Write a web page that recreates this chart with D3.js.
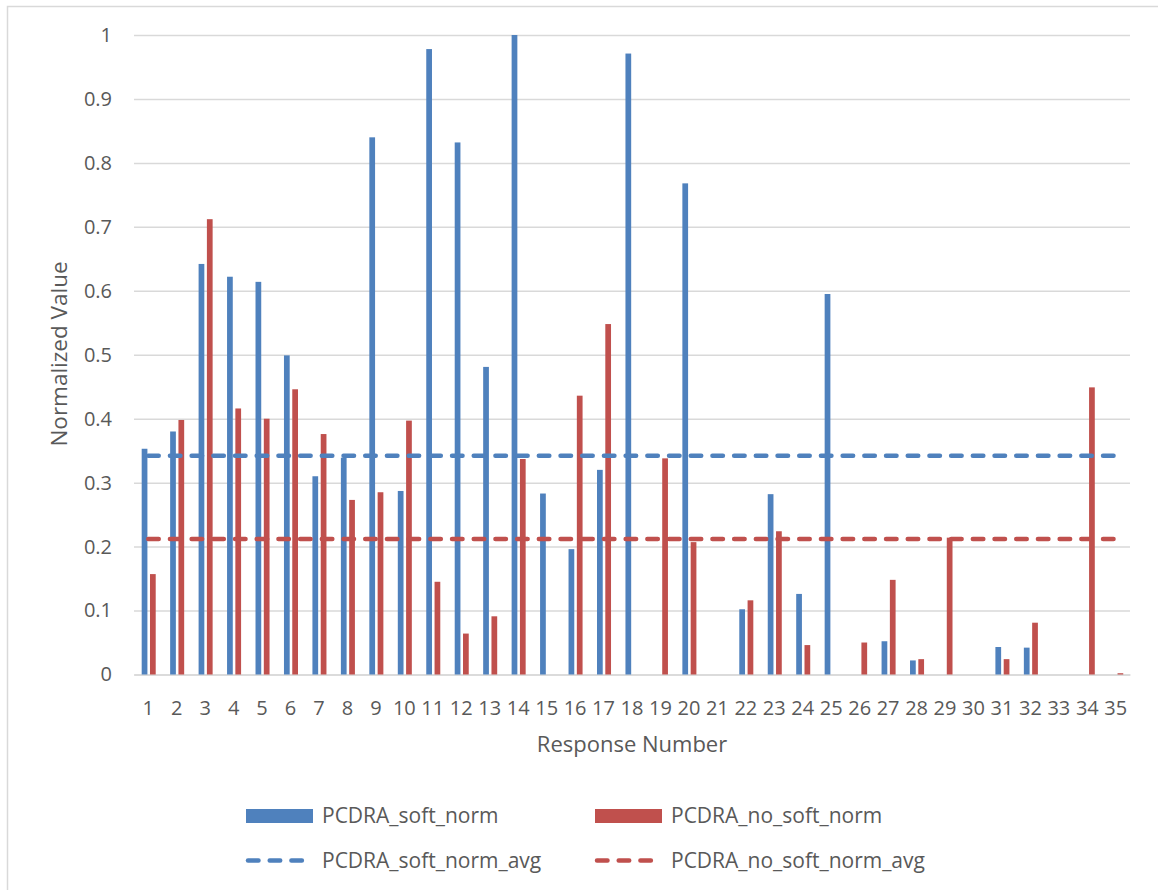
<!DOCTYPE html>
<html>
<head>
<meta charset="utf-8">
<script src="https://cdn.jsdelivr.net/npm/d3@7"></script>
<style>
  html, body { margin: 0; padding: 0; background: #fff; }
  svg { display: block; font-family: "Open Sans", "Noto Sans", sans-serif; }
</style>
</head>
<body>
<div id="chart"></div>
<script>
// values
const responses = d3.range(1, 36).map(String);
const softNorm = [0.353, 0.380, 0.642, 0.622, 0.614, 0.499, 0.310, 0.339, 0.840, 0.287,
                  0.978, 0.832, 0.481, 1.000, 0.283, 0.196, 0.320, 0.971, 0, 0.768,
                  0, 0.102, 0.282, 0.126, 0.595, 0, 0.052, 0.022, 0, 0,
                  0.043, 0.042, 0, 0, 0];
const noSoftNorm = [0.157, 0.398, 0.712, 0.416, 0.400, 0.446, 0.376, 0.273, 0.285, 0.397,
                    0.145, 0.064, 0.091, 0.337, 0, 0.436, 0.548, 0, 0.338, 0.207,
                    0, 0.116, 0.224, 0.046, 0, 0.050, 0.148, 0.024, 0.214, 0,
                    0.024, 0.081, 0, 0.449, 0.002];
const softNormAvg = 0.342;
const noSoftNormAvg = 0.212;
const yTicks = [0, 0.1, 0.2, 0.3, 0.4, 0.5, 0.6, 0.7, 0.8, 0.9, 1];

const seriesNames = ["PCDRA_soft_norm", "PCDRA_no_soft_norm"];
const avgNames = ["PCDRA_soft_norm_avg", "PCDRA_no_soft_norm_avg"];
const colors = ["#4F81BD", "#C0504D"];

const W = 1158, H = 890;
const plot = { left: 134, right: 1130, top: 35, bottom: 674.5 };

const svg = d3.select("#chart").append("svg")
    .attr("width", W)
    .attr("height", H);

// chart border (right and bottom edges fall outside the picture)
svg.append("rect")
    .attr("x", 7.5).attr("y", 6.5)
    .attr("width", 1170).attr("height", 900)
    .attr("fill", "none")
    .attr("stroke", "#d9d9d9")
    .attr("stroke-width", 1.5);

const x0 = d3.scaleBand()
    .domain(responses)
    .range([plot.left, plot.right])
    .padding(0);

const x1 = d3.scaleBand()
    .domain([0, 1])
    .range([x0.bandwidth() * 0.27, x0.bandwidth() * 0.763])
    .paddingInner(0.31);

const y = d3.scaleLinear()
    .domain([0, 1])
    .range([plot.bottom, plot.top]);

// y axis + gridlines
const yAxis = svg.append("g")
    .attr("transform", `translate(${plot.left},0)`)
    .call(d3.axisLeft(y)
        .tickValues(yTicks)
        .tickFormat(d => d3.format("~g")(d))
        .tickSize(-(plot.right - plot.left))
        .tickPadding(22));
yAxis.select(".domain").remove();
yAxis.selectAll(".tick line").attr("stroke", "#d9d9d9").attr("stroke-width", 1.5);
yAxis.selectAll(".tick text")
    .attr("fill", "#595959")
    .style("font-size", "20px")
    .style("font-family", "'Open Sans', sans-serif");

// x axis
const xAxis = svg.append("g")
    .attr("transform", `translate(0,${plot.bottom})`)
    .call(d3.axisBottom(x0).tickSize(0).tickPadding(26));
xAxis.select(".domain").attr("stroke", "#d9d9d9").attr("stroke-width", 1.5);
xAxis.selectAll(".tick text")
    .attr("fill", "#595959")
    .style("font-size", "20px")
    .style("font-family", "'Open Sans', sans-serif");

// bars
const rows = responses.map((r, i) => ({ r, vals: [softNorm[i], noSoftNorm[i]] }));
const groups = svg.append("g").selectAll("g")
    .data(rows)
    .enter().append("g")
    .attr("transform", d => `translate(${x0(d.r)},0)`);

groups.selectAll("rect")
    .data(d => d.vals.map((v, k) => ({ k, v })))
    .enter().append("rect")
    .attr("x", d => x1(d.k))
    .attr("width", x1.bandwidth())
    .attr("y", d => y(d.v))
    .attr("height", d => y(0) - y(d.v))
    .attr("fill", d => colors[d.k]);

// average lines
const avgLine = d3.line()
    .x(d => x0(d.r) + x0.bandwidth() / 2)
    .y(d => y(d.v));

[softNormAvg, noSoftNormAvg].forEach((avg, k) => {
    svg.append("path")
        .datum(responses.map(r => ({ r, v: avg })))
        .attr("d", avgLine)
        .attr("fill", "none")
        .attr("stroke", colors[k])
        .attr("stroke-width", 4.5)
        .attr("stroke-linecap", "round")
        .attr("stroke-dasharray", "10.5,11.2");
});

// axis titles
svg.append("text")
    .attr("transform", "translate(67,354) rotate(-90)")
    .attr("text-anchor", "middle")
    .attr("fill", "#595959")
    .style("font-size", "22.5px")
    .text("Normalized Value");

svg.append("text")
    .attr("x", (plot.left + plot.right) / 2)
    .attr("y", 752)
    .attr("text-anchor", "middle")
    .attr("fill", "#595959")
    .style("font-size", "22px")
    .text("Response Number");

// legend
const legendX = [246, 595];
const legend = svg.append("g");

seriesNames.forEach((name, k) => {
    legend.append("rect")
        .attr("x", legendX[k]).attr("y", 809)
        .attr("width", 67).attr("height", 14)
        .attr("fill", colors[k]);
    legend.append("text")
        .attr("x", legendX[k] + 76).attr("y", 823)
        .attr("fill", "#595959")
        .style("font-size", "21px")
        .text(name);
});

avgNames.forEach((name, k) => {
    legend.append("line")
        .attr("x1", legendX[k] + 2).attr("x2", legendX[k] + 65)
        .attr("y1", 860.5).attr("y2", 860.5)
        .attr("stroke", colors[k])
        .attr("stroke-width", 4.5)
        .attr("stroke-linecap", "round")
        .attr("stroke-dasharray", "10.5,11.2");
    legend.append("text")
        .attr("x", legendX[k] + 76).attr("y", 867.5)
        .attr("fill", "#595959")
        .style("font-size", "21px")
        .text(name);
});
</script>
</body>
</html>
